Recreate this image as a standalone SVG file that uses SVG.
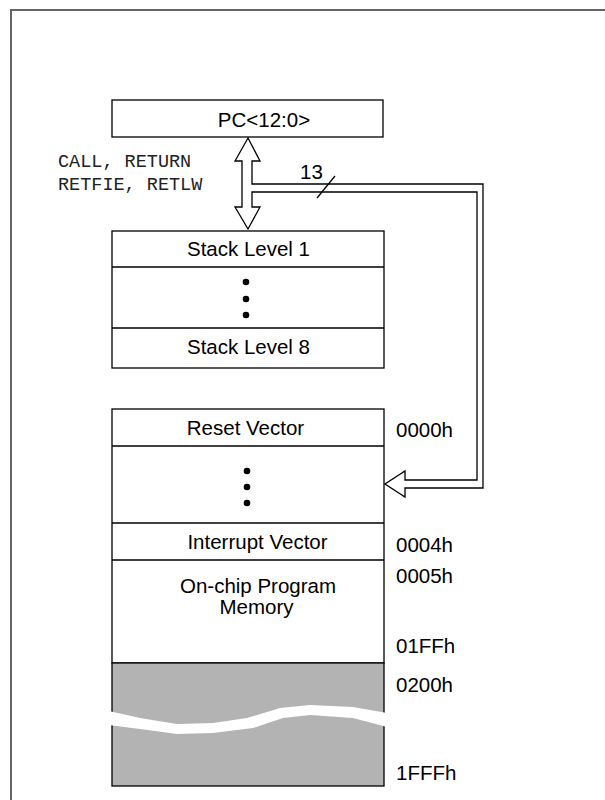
<svg xmlns="http://www.w3.org/2000/svg" width="605" height="800" viewBox="0 0 605 800">
<style>
.box{fill:#fff;stroke:#000;stroke-width:1.3}
.ln{fill:none;stroke:#000;stroke-width:1.3}
.t{font-family:"Liberation Sans",Arial,sans-serif;font-size:20.5px;fill:#000}
.m{text-anchor:middle}
.mono{font-family:"Liberation Mono","Courier New",monospace;font-size:18.5px;fill:#222}
.dot{fill:#000}
</style>
<rect width="605" height="800" fill="#fff"/>
<g id="frame">
<path d="M11,800 V10 H605" fill="none" stroke="#666" stroke-width="2"/>
</g>
<g id="pc">
<rect class="box" x="112" y="100" width="271" height="37"/>
<text class="t m" x="264" y="127">PC&lt;12:0&gt;</text>
</g>
<g id="stack">
<rect class="box" x="112" y="231" width="272" height="137"/>
<line class="ln" x1="112" y1="267" x2="384" y2="267"/>
<line class="ln" x1="112" y1="328" x2="384" y2="328"/>
<text class="t m" x="248.5" y="256">Stack Level 1</text>
<circle class="dot" cx="246" cy="282" r="3.3"/>
<circle class="dot" cx="246" cy="299" r="3.3"/>
<circle class="dot" cx="246" cy="315" r="3.3"/>
<text class="t m" x="248.5" y="354">Stack Level 8</text>
</g>
<g id="memory">
<rect class="box" x="112" y="409" width="272" height="254"/>
<rect x="112" y="663" width="272" height="123" fill="#b3b3b3" stroke="#000" stroke-width="1.3"/>
<line class="ln" x1="112" y1="446" x2="384" y2="446"/>
<line class="ln" x1="112" y1="523" x2="384" y2="523"/>
<line class="ln" x1="112" y1="560" x2="384" y2="560"/>
<path d="M109,711 L140,718 L177,724 L213,723 L247,718 L280,708 L310,705 L353,707 L387,713 L387,727 L353,718 L310,715 L283,718 L253,728 L213,733 L177,734 L140,729 L109,725 Z" fill="#fff"/>
<text class="t m" x="245.5" y="435">Reset Vector</text>
<circle class="dot" cx="247" cy="471" r="3.3"/>
<circle class="dot" cx="247" cy="487" r="3.3"/>
<circle class="dot" cx="247" cy="503" r="3.3"/>
<text class="t m" x="257.5" y="549">Interrupt Vector</text>
<text class="t m" x="258" y="593">On-chip Program</text>
<text class="t m" x="256.5" y="614">Memory</text>
</g>
<g id="addresses">
<text class="t" x="396" y="437">0000h</text>
<text class="t" x="396" y="552">0004h</text>
<text class="t" x="396" y="583">0005h</text>
<text class="t" x="396" y="653">01FFh</text>
<text class="t" x="396" y="692">0200h</text>
<text class="t" x="396" y="780">1FFFh</text>
</g>
<g id="connectors">
<path d="M248,138 L260,161 L252,161 L252,184 L483,184 L483,488 L405,488 L405,497 L385,484 L405,471 L405,480 L477,480 L477,192 L252,192 L252,207 L260,207 L248,229 L235,207 L242,207 L242,161 L235,161 Z" fill="#fff" stroke="#000" stroke-width="1.3" stroke-linejoin="miter"/>
<line class="ln" x1="317" y1="198" x2="335" y2="176"/>
<text class="t" x="300" y="179">13</text>
<text class="mono" x="58" y="167">CALL, RETURN</text>
<text class="mono" x="58" y="190">RETFIE, RETLW</text>
</g>
</svg>
